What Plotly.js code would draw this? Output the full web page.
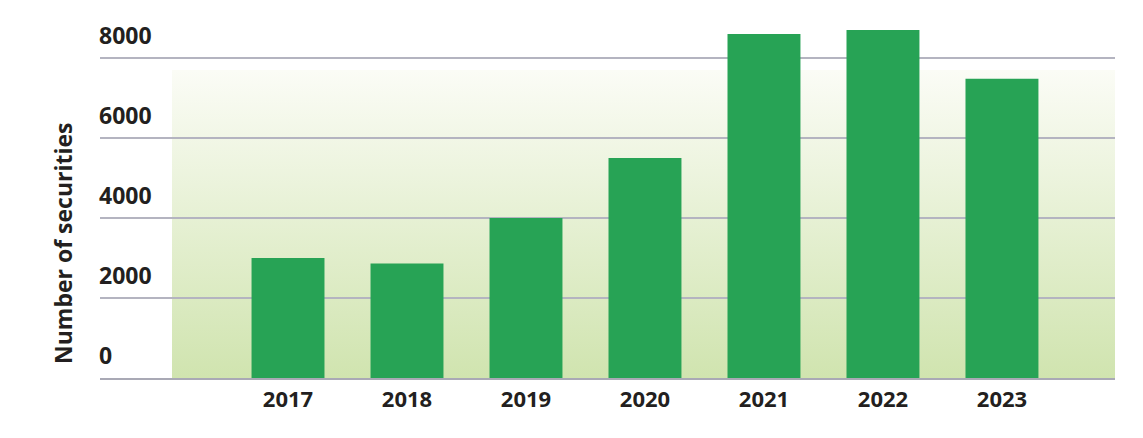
<!DOCTYPE html>
<html>
<head>
<meta charset="utf-8">
<script src="https://cdn.plot.ly/plotly-3.0.1.min.js"></script>
<style>html,body{margin:0;padding:0;background:#fff;}#chart{width:1143px;height:438px;}</style>
</head>
<body>
<div id="chart"></div>
<script>
const years = ['2017','2018','2019','2020','2021','2022','2023'];
const securities = [3000, 2860, 4000, 5500, 8600, 8700, 7480];
const yTickVals = [0, 2000, 4000, 6000, 8000];
const yTickText = ['0', '2000', '4000', '6000', '8000'];
const yTitle = 'Number of securities';

const textColor = '#231f20';
const fontFam = '"Open Sans", "DejaVu Sans", sans-serif';

const svg = '<svg xmlns="http://www.w3.org/2000/svg" width="100" height="100" preserveAspectRatio="none">' +
  '<defs><linearGradient id="g" x1="0" y1="0" x2="0" y2="1">' +
  '<stop offset="0" stop-color="#fbfcf6"/><stop offset="1" stop-color="#d0e4af"/>' +
  '</linearGradient></defs><rect width="100" height="100" fill="url(#g)"/></svg>';

const annotations = yTickVals.map((v, i) => ({
  xref: 'paper', yref: 'y', x: 0, y: v, xanchor: 'left', yanchor: 'middle',
  xshift: -3, yshift: 23, text: yTickText[i], showarrow: false,
  font: {family: fontFam, size: 23, color: textColor, weight: 700}
}));
annotations.push({
  xref: 'paper', yref: 'y', x: -37/1015, y: 3375, xanchor: 'center', yanchor: 'middle',
  text: yTitle, textangle: -90, showarrow: false,
  font: {family: fontFam, size: 23, color: textColor, weight: 700}
});

const data = [{
  type: 'bar', x: years, y: securities,
  marker: {color: '#27a355'}, hoverinfo: 'x+y'
}];

const layout = {
  width: 1143, height: 438,
  margin: {l: 100, r: 28, t: 18, b: 60},
  paper_bgcolor: '#ffffff', plot_bgcolor: 'rgba(0,0,0,0)',
  bargap: 0.387,
  showlegend: false,
  xaxis: {
    type: 'category', range: [-1.58, 6.95],
    showgrid: false, zeroline: false,
    showline: true, linecolor: '#a9a9b5', linewidth: 2,
    ticks: '', tickfont: {family: fontFam, size: 22, color: textColor, weight: 700},
    ticklabelstandoff: 1
  },
  yaxis: {
    range: [0, 9000], tickvals: yTickVals, showticklabels: false,
    showgrid: true, gridcolor: '#b4b4c0', gridwidth: 2, zeroline: false,
    ticks: ''
  },
  images: [{
    source: 'data:image/svg+xml;charset=utf-8,' + encodeURIComponent(svg),
    xref: 'paper', yref: 'y', x: 72/1015, y: 7700, sizex: 1 - 72/1015, sizey: 7700,
    xanchor: 'left', yanchor: 'top', sizing: 'stretch', layer: 'below'
  }],
  annotations: annotations
};

Plotly.newPlot('chart', data, layout, {displayModeBar: false, staticPlot: true});
</script>
</body>
</html>
